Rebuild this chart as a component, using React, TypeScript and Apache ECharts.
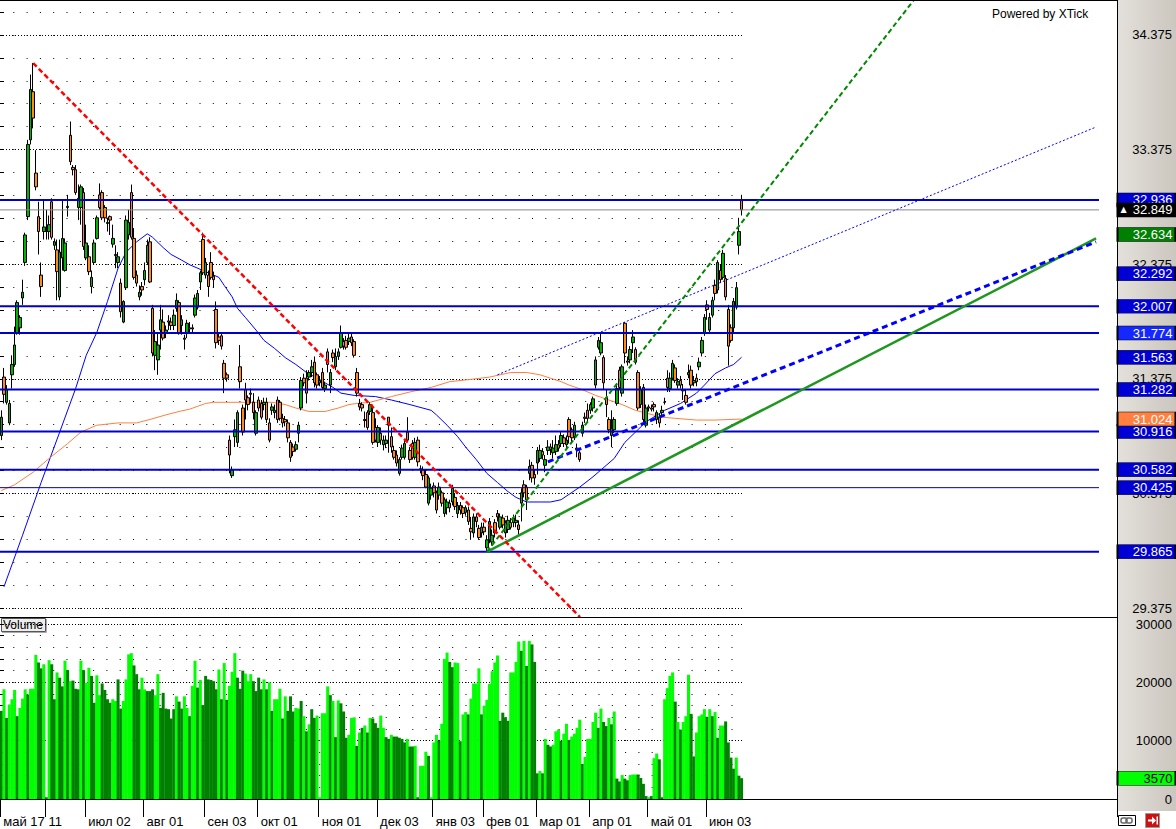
import React, { useEffect, useRef } from 'react';
import * as echarts from 'echarts';

// [open, close, low, high]
const CANDLES: number[][] = [
[30.88,31.04,30.84,31.10],[31.39,31.24,31.16,31.47],[31.17,31.28,31.15,31.32],[30.99,31.16,30.97,31.19],[31.41,31.50,31.29,31.58],
[31.50,31.67,31.48,31.83],[31.77,32.04,31.76,32.06],[31.82,31.91,31.76,31.93],[32.08,32.13,32.02,32.24],[32.39,32.63,32.36,32.65],
[32.79,33.42,32.76,33.46],[33.46,33.90,33.42,34.03],[33.88,33.65,33.56,34.13],[33.17,33.05,33.02,33.37],[32.79,32.66,32.46,32.92],
[32.28,32.18,32.09,32.39],[32.66,32.70,32.59,32.93],[32.66,32.67,32.59,32.85],[32.66,32.72,32.59,32.80],[32.92,32.61,32.59,32.95],
[32.54,32.57,32.50,32.60],[32.50,32.31,32.06,32.59],[32.09,32.48,32.06,32.59],[32.43,32.60,32.32,32.93],[32.32,32.56,32.31,32.60],
[32.87,32.88,32.79,32.98],[33.50,33.27,33.24,33.62],[33.22,33.20,33.15,33.24],[33.20,33.00,32.98,33.24],[32.87,32.95,32.76,33.07],
[32.87,33.05,32.72,33.07],[33.00,32.53,32.50,33.04],[32.43,32.56,32.41,32.72],[32.44,32.31,32.28,32.54],[32.18,32.26,32.12,32.32],
[32.39,32.56,32.37,32.59],[32.60,32.78,32.59,32.80],[32.98,32.87,32.85,33.08],[33.00,32.78,32.76,33.02],[32.87,32.78,32.74,32.89],
[32.74,32.73,32.66,32.78],[32.79,32.76,32.63,32.80],[32.55,32.60,32.52,32.72],[32.46,32.45,32.34,32.54],[32.39,32.44,32.34,32.48],
[32.21,31.96,31.91,32.25],[31.87,32.05,31.86,32.06],[32.17,32.76,32.15,32.80],[32.63,32.74,32.59,32.85],[33.00,32.61,32.59,33.07],
[32.60,32.26,32.24,32.69],[32.28,32.21,32.18,32.32],[32.09,32.13,32.06,32.19],[32.18,32.15,32.10,32.22],[32.24,32.32,32.19,32.39],
[32.39,32.54,32.37,32.59],[32.57,32.22,32.21,32.61],[31.99,31.60,31.57,32.02],[31.58,31.70,31.45,31.80],[31.54,31.67,31.41,31.77],
[31.80,31.89,31.63,32.02],[31.87,31.73,31.71,31.98],[31.77,31.80,31.73,31.84],[31.88,31.87,31.80,31.93],[31.87,31.84,31.80,31.91],
[31.84,31.93,31.80,31.98],[31.99,32.06,31.96,32.12],[32.04,31.77,31.76,32.06],[31.84,31.89,31.76,31.93],[31.73,31.72,31.63,31.76],
[31.77,31.86,31.73,31.89],[31.82,31.81,31.78,31.87],[31.81,31.82,31.77,31.85],[31.93,32.08,31.91,32.11],[32.00,32.12,31.98,32.15],
[32.22,32.30,32.15,32.32],[32.59,32.30,32.28,32.65],[32.28,32.39,32.25,32.43],[32.28,32.18,32.09,32.32],[32.39,32.26,32.24,32.48],
[32.27,32.24,32.17,32.31],[31.98,31.69,31.64,32.05],[31.74,31.71,31.67,31.77],[31.75,31.66,31.63,31.77],[31.51,31.38,31.25,31.54],
[31.41,31.38,31.35,31.43],[30.84,30.71,30.55,30.88],[30.53,30.58,30.51,30.61],[30.87,30.93,30.78,31.02],[30.82,31.08,30.78,31.10],
[31.48,31.35,31.29,31.67],[31.12,30.91,30.88,31.15],[31.28,31.19,31.02,31.34],[31.21,31.15,31.10,31.23],[31.25,31.24,31.16,31.29],
[31.17,31.08,31.02,31.25],[30.90,31.08,30.88,31.10],[31.19,31.12,31.09,31.22],[31.16,31.04,31.02,31.19],[31.15,31.17,31.10,31.21],
[31.17,31.02,30.99,31.21],[30.99,30.84,30.82,31.03],[31.10,31.13,31.06,31.16],[31.08,31.10,31.03,31.15],[31.19,31.02,30.99,31.22],
[31.17,31.03,31.01,31.19],[31.03,30.99,30.95,31.07],[31.02,31.00,30.96,31.05],[30.99,30.86,30.82,31.02],[30.82,30.69,30.65,30.84],
[30.78,30.74,30.70,30.81],[30.76,30.80,30.74,30.83],[30.90,30.97,30.82,31.00],[31.12,31.36,31.10,31.39],[31.38,31.34,31.31,31.42],
[31.38,31.25,31.16,31.45],[31.39,31.43,31.36,31.45],[31.43,31.48,31.39,31.54],[31.52,31.34,31.30,31.57],[31.41,31.32,31.29,31.43],
[31.34,31.36,31.31,31.40],[31.43,31.30,31.28,31.47],[31.29,31.32,31.26,31.35],[31.61,31.50,31.43,31.64],[31.32,31.43,31.25,31.46],
[31.60,31.56,31.52,31.63],[31.48,31.57,31.45,31.64],[31.57,31.61,31.54,31.64],[31.65,31.77,31.64,31.84],[31.70,31.66,31.63,31.73],
[31.71,31.65,31.63,31.75],[31.70,31.73,31.67,31.77],[31.74,31.69,31.66,31.77],[31.70,31.58,31.56,31.72],[31.43,31.25,31.22,31.47],
[31.16,31.13,31.10,31.20],[31.15,31.12,31.09,31.17],[31.02,31.01,30.95,31.09],[31.08,30.95,30.93,31.10],[31.09,31.15,31.06,31.17],
[31.08,30.82,30.80,31.15],[30.95,30.84,30.82,31.03],[30.82,30.95,30.78,30.97],[30.90,30.84,30.80,30.95],[30.80,30.84,30.75,30.88],
[30.81,30.84,30.77,30.88],[31.04,30.97,30.73,31.04],[30.87,30.78,30.73,30.95],[30.75,30.69,30.67,30.79],[30.71,30.64,30.61,30.75],
[30.55,30.67,30.53,30.69],[30.69,30.77,30.67,30.80],[30.69,30.81,30.67,30.84],[30.91,30.84,30.82,31.04],[30.75,30.67,30.64,30.78],
[30.81,30.69,30.67,30.84],[30.69,30.82,30.67,30.86],[30.84,30.65,30.61,30.87],[30.59,30.59,30.55,30.62],[30.58,30.53,30.49,30.61],
[30.54,30.43,30.42,30.58],[30.29,30.51,30.27,30.53],[30.36,30.42,30.32,30.46],[30.44,30.38,30.34,30.47],[30.38,30.23,30.20,30.40],
[30.36,30.43,30.32,30.47],[30.38,30.29,30.26,30.40],[30.20,30.32,30.17,30.34],[30.25,30.30,30.19,30.33],[30.29,30.25,30.21,30.32],
[30.30,30.42,30.27,30.45],[30.34,30.26,30.23,30.38],[30.20,30.27,30.16,30.30],[30.27,30.23,30.19,30.30],[30.25,30.20,30.16,30.27],
[30.21,30.25,30.18,30.27],[30.23,30.13,30.10,30.26],[30.07,30.04,29.97,30.17],[30.03,30.17,29.99,30.20],[30.17,30.13,30.08,30.20],
[30.07,29.99,29.97,30.10],[30.03,30.08,29.99,30.12],[30.08,30.04,30.01,30.12],[29.90,29.97,29.865,30.01],[29.97,30.13,29.94,30.16],
[29.95,30.01,29.92,30.06],[30.12,30.03,29.99,30.15],[30.20,30.17,30.13,30.23],[30.08,30.17,30.06,30.20],[30.16,30.10,30.07,30.19],
[30.03,30.12,29.99,30.14],[30.06,30.14,30.03,30.18],[30.12,30.08,30.06,30.16],[30.12,30.16,30.08,30.19],[30.12,30.14,30.08,30.19],
[30.10,30.06,30.01,30.14],[30.29,30.38,30.13,30.42],[30.45,30.38,30.34,30.49],[30.43,30.32,30.23,30.45],[30.55,30.61,30.49,30.67],
[30.62,30.51,30.47,30.65],[30.54,30.51,30.45,30.58],[30.64,30.75,30.54,30.78],[30.68,30.75,30.65,30.80],[30.74,30.71,30.67,30.77],
[30.62,30.67,30.56,30.71],[30.75,30.78,30.71,30.84],[30.78,30.76,30.71,30.81],[30.73,30.77,30.68,30.84],[30.74,30.80,30.71,30.88],
[30.80,30.77,30.74,30.84],[30.81,30.88,30.78,30.91],[30.86,30.81,30.78,30.89],[30.80,30.84,30.77,30.88],[31.02,30.87,30.81,31.04],
[30.93,30.86,30.82,30.95],[30.87,30.97,30.84,31.00],[30.77,30.76,30.69,30.81],[30.73,30.67,30.65,30.75],[30.90,30.97,30.87,31.00],
[31.04,31.03,30.99,31.08],[31.10,31.03,30.99,31.16],[31.10,31.15,31.07,31.17],[31.12,31.20,31.09,31.22],[31.32,31.54,31.29,31.57],
[31.65,31.71,31.63,31.74],[31.60,31.69,31.58,31.77],[31.56,31.34,31.28,31.58],[31.21,31.15,31.04,31.28],[31.02,30.93,30.90,31.04],
[30.88,30.94,30.78,31.10],[30.93,31.02,30.90,31.04],[31.16,31.29,31.14,31.32],[31.45,31.30,31.28,31.48],[31.25,31.48,31.22,31.50],
[31.86,31.60,31.51,31.87],[31.53,31.52,31.49,31.57],[31.54,31.63,31.51,31.66],[31.69,31.74,31.60,31.80],[31.63,31.52,31.50,31.65],
[31.43,31.12,31.10,31.45],[31.15,31.28,31.12,31.31],[31.30,31.02,30.99,31.33],[30.97,31.12,30.95,31.15],[31.13,31.12,31.09,31.15],
[31.12,31.11,31.09,31.15],[31.15,31.13,31.09,31.17],[31.02,31.08,30.98,31.10],[31.04,30.99,30.95,31.07],[31.08,31.10,31.05,31.14],
[31.17,31.17,31.15,31.21],[31.38,31.30,31.26,31.45],[31.29,31.38,31.26,31.43],[31.38,31.51,31.36,31.54],[31.47,31.36,31.34,31.50],
[31.32,31.35,31.29,31.38],[31.36,31.32,31.29,31.40],[31.28,31.27,31.19,31.33],[31.23,31.17,31.15,31.28],[31.41,31.43,31.38,31.50],
[31.45,31.32,31.29,31.49],[31.34,31.36,31.31,31.40],[31.38,31.35,31.31,31.42],[31.48,31.52,31.45,31.56],[31.60,31.71,31.57,31.74],
[31.77,31.91,31.75,31.94],[32.02,31.98,31.89,32.06],[31.80,31.91,31.77,31.95],[31.93,32.06,31.91,32.09],[32.19,32.12,32.06,32.24],
[32.15,32.39,32.12,32.41],[32.32,32.24,32.21,32.37],[32.26,32.47,32.24,32.50],[32.25,32.09,32.06,32.28],[31.98,31.66,31.49,32.02],
[31.82,31.71,31.69,31.85],[31.82,32.05,31.77,32.08],[32.00,32.17,31.98,32.22],[32.54,32.66,32.46,32.78],[32.93,32.849,32.80,32.98]
];

const VOLUME: number[] = [
15100,18800,13900,16200,17100,18700,14200,15600,17200,18800,
17900,18900,18900,24700,23400,22400,23100,300,23800,23100,
17100,21700,20800,19300,23700,22100,20200,20300,18900,18800,
23700,22100,19900,22500,21100,16500,21200,17800,19800,18700,
17100,16500,17100,16800,20500,15500,16800,20500,24800,25000,
22900,21400,18800,20800,18800,18500,18500,18800,17800,21400,
15600,18200,15500,15400,13800,15400,17600,16700,15500,17600,
15600,14200,19400,23700,19100,20400,16100,21100,20500,20400,
20200,18800,22200,17100,23300,17000,19400,21800,25000,20800,
18900,22000,21500,20200,21400,20200,18500,20800,18800,20500,
18800,20000,15100,17100,17100,18900,13800,17600,15100,17600,
15000,15600,15500,16800,14200,11600,12800,15400,13900,14300,
300,14700,14700,19300,17800,16800,10600,16900,16400,15000,
10500,11000,13900,14000,9100,11400,12200,12600,11400,13900,
13800,13000,12200,14300,12200,10600,10300,11000,10700,10700,
10500,10300,9700,10300,9000,9000,9100,300,5700,5700,
8100,7400,300,9700,11000,10000,12900,24000,25100,23500,
22600,23400,23300,9900,14500,14900,14500,17200,19800,19800,
22400,14500,16000,17000,19700,21900,23400,24600,13400,14800,
14000,13400,21700,21700,23500,27000,25400,27100,22800,27100,
26500,23500,4400,4800,4400,10300,9300,9000,9300,11600,
11900,10000,11200,12900,10100,10700,11200,12200,13600,6000,
7200,10300,10300,13200,14800,12200,15500,13200,12500,13900,
12800,15000,3500,3000,4100,3500,3200,4100,4200,4200,
4200,3600,2600,500,300,500,7000,7800,6800,300,
17100,19000,21100,21700,16700,13200,11900,13200,14200,21300,
14600,7300,11400,14200,14500,15400,14100,15400,14200,14900,
10500,12600,12600,13300,9700,7100,5200,7100,4000,3570
];

// 1 = light green bar, 0 = dark green bar
const VOL_TONE =
  '0101110111' + '0111001010' + '0100101000' + '1011001100' + '0011001111' +
  '0001100011' + '0000001001' + '1011010000' + '0010101110' + '0011100001' +
  '0101110100' + '0110101001' + '1111010100' + '0111010101' + '0001100100' +
  '0001001011' + '1011101110' + '0110110111' + '1011111100' + '0011110101' +
  '0001010011' + '1011011110' + '1111101001' + '0100100111' + '0000101100' +
  '1111010111' + '0011110101' + '0110000100';

const LABEL_IDX = [0, 17, 32, 54, 77, 97, 120, 142, 163, 182, 202, 222, 244, 266];
const LABEL_TXT = ['май 17', '11', 'июл 02', 'авг 01', 'сен 03', 'окт 01', 'ноя 01', 'дек 03', 'янв 03', 'фев 01', 'мар 01', 'апр 01', 'май 01', 'июн 03'];

// moving averages: [bar, value]
const MA_FAST: number[][] = [
[1,29.56],[8,30.01],[15,30.47],[22,30.91],[28,31.29],[32,31.58],[36,31.78],[40,32.05],[44,32.34],[47,32.48],
[51,32.57],[55,32.64],[57,32.61],[61,32.52],[64,32.46],[68,32.41],[71,32.37],[77,32.31],[82,32.26],[84,32.19],
[87,32.09],[89,31.99],[92,31.91],[96,31.80],[99,31.71],[103,31.64],[107,31.56],[111,31.50],[115,31.43],[119,31.38],
[125,31.30],[128,31.25],[133,31.23],[141,31.22],[147,31.19],[154,31.15],[162,31.10],[164,31.06],[168,30.97],[172,30.87],
[175,30.78],[179,30.67],[183,30.55],[187,30.47],[191,30.39],[194,30.34],[198,30.30],[203,30.30],[207,30.30],[211,30.32],
[218,30.43],[223,30.52],[228,30.62],[231,30.68],[235,30.82],[239,30.91],[243,31.00],[250,31.10],[256,31.16],[262,31.25],
[265,31.32],[269,31.42],[273,31.47],[276,31.50],[279,31.563]
];
const MA_SLOW: number[][] = [
[0,30.40],[5,30.45],[12,30.56],[18,30.68],[25,30.81],[30,30.91],[36,30.97],[44,30.99],[51,30.99],[56,31.02],
[62,31.06],[67,31.09],[71,31.11],[77,31.16],[80,31.17],[95,31.17],[102,31.17],[107,31.15],[111,31.12],[116,31.09],
[122,31.09],[127,31.12],[131,31.15],[134,31.16],[139,31.17],[147,31.22],[154,31.26],[162,31.30],[169,31.35],[177,31.37],
[184,31.39],[192,31.43],[198,31.43],[203,31.41],[207,31.38],[211,31.35],[214,31.32],[219,31.28],[224,31.23],[229,31.19],
[234,31.15],[239,31.10],[244,31.07],[249,31.04],[254,31.03],[262,31.015],[269,31.015],[279,31.024]
];

const LEVELS = [32.936, 32.007, 31.774, 31.282, 30.916, 30.582, 29.865];
const THIN_LEVEL = 30.425;
const LAST_PRICE = 32.849;

// trend lines: [bar, value]
const RED_TREND = [[12, 34.13], [218.1, 29.296]];
const GREEN_DASH = [[183, 29.865], [344, 34.682]];
const GREEN_SOLID = [[183, 29.865], [412.6, 32.60]];
const BLUE_DASH = [[206, 30.65], [412.6, 32.57]];
const BLUE_DOT = [[187, 31.41], [412.6, 33.572]];

const TAG_BLUE = [32.936, 32.292, 32.007, 31.774, 31.563, 31.282, 30.916, 30.582, 30.425, 29.865];
const TAG_GREEN = 32.634;
const TAG_ORANGE = 31.024;
const VOL_LAST = 3570;

const FONT = '"Liberation Sans", Arial, Helvetica, sans-serif';
const M = 421;
const GRID_W = 1117;
const BAR_PX = GRID_W / M;
const LINE_END = 1099 / BAR_PX - 0.5;
const TAG_X = 1146.5 / BAR_PX - 0.5;
const PX_PER_UNIT = 114.6;
const P_MAX = 34.375 + 35 / PX_PER_UNIT;
const P_MIN = P_MAX - 617 / PX_PER_UNIT;

export default function App() {
  const ref = useRef<HTMLDivElement>(null);
  useEffect(() => {
    if (!ref.current) return;
    const chart = echarts.init(ref.current, null, { renderer: 'svg' });
    const cats = Array.from({ length: M }, (_, i) => {
      const k = LABEL_IDX.indexOf(i);
      return k >= 0 ? LABEL_TXT[k] : 'c' + i;
    });
    const isLabel = (i: number) => LABEL_IDX.indexOf(i) >= 0;
    const lineS = (data: number[][], style: any, z = 3) => ({
      type: 'line', xAxisIndex: 1, yAxisIndex: 0, data, symbol: 'none', silent: true,
      lineStyle: style, z, animation: false,
    });
    const hidden = { show: false };
    const noAxisParts = { axisLine: hidden, axisTick: hidden, axisLabel: hidden };
    const sparse = { show: true, lineStyle: { color: '#000', width: 1, type: [1, 12.3] } };
    const dense = { show: true, lineStyle: { color: '#000', width: 1, type: [1, 2] } };
    const priceFmt = (v: number) => {
      const k = v - 29.375;
      return Math.abs(k - Math.round(k)) < 1e-6 ? v.toFixed(3) : '';
    };
    const tagLabel = (color: string) => ({
      show: true, position: 'inside',
      formatter: (p: any) => `{v|${p.value[1].toFixed(3)}}`,
      rich: { v: { width: 52, align: 'right', color, fontSize: 13, fontFamily: FONT } },
    });

    const series: any[] = [
      lineS(MA_FAST, { color: '#0000ff', width: 1 }, 1),
      lineS(MA_SLOW, { color: '#ff7f40', width: 1 }, 1),
      {
        type: 'candlestick', xAxisIndex: 0, yAxisIndex: 0, data: CANDLES, barWidth: 3, z: 2,
        itemStyle: {
          color: '#00b400', color0: '#ff8a1c', borderColor: '#000', borderColor0: '#000',
          borderColorDoji: '#000', borderWidth: 1,
        },
        silent: true,
      },
      ...LEVELS.map((v) => lineS([[-0.5, v], [LINE_END, v]], { color: '#0000cc', width: 2 })),
      lineS([[-0.5, THIN_LEVEL], [LINE_END, THIN_LEVEL]], { color: '#0000aa', width: 1 }),
      lineS([[-0.5, LAST_PRICE], [LINE_END, LAST_PRICE]], { color: '#888888', width: 1 }),
      lineS(BLUE_DOT, { color: '#0000ff', width: 1, type: [2, 2] }),
      lineS(GREEN_SOLID, { color: '#1f961f', width: 2.5 }),
      lineS(BLUE_DASH, { color: '#0000ff', width: 3, type: [6, 4] }),
      lineS(GREEN_DASH, { color: '#008800', width: 2, type: [5, 3] }),
      lineS(RED_TREND, { color: '#ff0000', width: 2.5, type: [5, 3] }),
      {
        type: 'bar', xAxisIndex: 2, yAxisIndex: 1, barWidth: 3, silent: true,
        data: VOLUME.map((v, i) => ({ value: v, itemStyle: { color: VOL_TONE[i] === '1' ? '#00ff00' : '#008000' } })),
      },
      {
        type: 'scatter', xAxisIndex: 1, yAxisIndex: 0, clip: false, z: 5, silent: true,
        symbol: 'rect', symbolSize: [58, 14],
        itemStyle: { borderColor: '#000', borderWidth: 1, opacity: 1 },
        data: TAG_BLUE.map((v) => ({ value: [TAG_X, v], itemStyle: { color: v === 31.774 ? '#1428ff' : '#0000d4' } })),
        label: tagLabel('#fff'),
      },
      {
        type: 'scatter', xAxisIndex: 1, yAxisIndex: 0, clip: false, z: 6, silent: true,
        symbol: 'rect', symbolSize: [58, 14],
        itemStyle: { borderColor: '#000', borderWidth: 1, opacity: 1 },
        data: [
          { value: [TAG_X, TAG_ORANGE], itemStyle: { color: '#ff8040' } },
          { value: [TAG_X, TAG_GREEN], itemStyle: { color: '#008000' } },
        ],
        label: tagLabel('#fff'),
      },
      {
        type: 'scatter', xAxisIndex: 1, yAxisIndex: 0, clip: false, z: 7, silent: true,
        symbol: 'rect', symbolSize: [58, 14],
        itemStyle: { color: '#000', borderColor: '#000', borderWidth: 1, opacity: 1 },
        data: [{ value: [TAG_X, LAST_PRICE] }],
        label: {
          show: true, position: 'inside',
          formatter: (p: any) => `{a|▲}{v|${p.value[1].toFixed(3)}}`,
          rich: {
            a: { width: 10, align: 'left', color: '#fff', fontSize: 8, fontFamily: 'DejaVu Sans' },
            v: { width: 42, align: 'right', color: '#fff', fontSize: 13, fontFamily: FONT },
          },
        },
      },
      {
        type: 'scatter', xAxisIndex: 3, yAxisIndex: 1, clip: false, z: 6, silent: true,
        symbol: 'rect', symbolSize: [58, 14],
        itemStyle: { color: '#00ff00', borderColor: '#000', borderWidth: 1, opacity: 1 },
        data: [{ value: [TAG_X, VOL_LAST] }],
        label: {
          show: true, position: 'inside', formatter: (p: any) => `{v|${p.value[1]}}`,
          rich: { v: { width: 52, align: 'right', color: '#000', fontSize: 13, fontFamily: FONT } },
        },
      },
    ];

    const option: any = {
      animation: false,
      backgroundColor: '#ffffff',
      grid: [
        { left: 0, top: 0, width: GRID_W, height: 617, outerBoundsMode: 'none', containLabel: false },
        { left: 0, top: 624, width: GRID_W, height: 175, outerBoundsMode: 'none', containLabel: false },
        { left: 0, top: 12, width: 742, height: 596, outerBoundsMode: 'none', containLabel: false },
        { left: 0, top: 12, width: GRID_W, height: 596, outerBoundsMode: 'none', containLabel: false },
        { left: 0, top: 624, width: 742, height: 175, outerBoundsMode: 'none', containLabel: false },
      ],
      xAxis: [
        { type: 'category', gridIndex: 0, data: cats, boundaryGap: true, show: false },
        { type: 'value', gridIndex: 0, min: -0.5, max: M - 0.5, show: false },
        {
          type: 'category', gridIndex: 1, data: cats, boundaryGap: true, offset: 12,
          axisLine: { show: true, lineStyle: { color: '#000', width: 1 } },
          axisTick: { show: true, interval: (i: number) => isLabel(i), length: 18, lineStyle: { color: '#000', width: 1 } },
          axisLabel: {
            show: true, interval: (i: number) => isLabel(i), align: 'left', margin: 4,
            padding: [0, 0, 0, 2], color: '#000', fontSize: 13, fontFamily: FONT,
            formatter: (v: string) => (/^c\d+$/.test(v) ? '' : v),
          },
          splitLine: { show: false },
        },
        { type: 'value', gridIndex: 1, min: -0.5, max: M - 0.5, show: false },
        { type: 'value', gridIndex: 2, show: false, min: 0, max: 1 },
        { type: 'value', gridIndex: 3, show: false, min: 0, max: 1 },
        { type: 'value', gridIndex: 4, show: false, min: 0, max: 1 },
      ],
      yAxis: [
        { type: 'value', gridIndex: 0, min: P_MIN, max: P_MAX, show: false },
        {
          type: 'value', gridIndex: 1, position: 'right', min: 0, max: 30000, interval: 2000,
          axisLine: { show: false },
          axisTick: { show: true, inside: true, length: 4, lineStyle: { color: '#000' } },
          axisLabel: {
            show: true, align: 'right', margin: 55, color: '#000', fontSize: 13, fontFamily: FONT,
            formatter: (v: number) => (v % 10000 === 0 ? String(v) : ''),
          },
          splitLine: { show: false },
        },
        {
          type: 'value', gridIndex: 1, position: 'left', min: 0, max: 30000, interval: 2000,
          axisLine: { show: false }, axisLabel: { show: false },
          axisTick: { show: true, inside: true, length: 4, lineStyle: { color: '#000' } },
          splitLine: { show: false },
        },
        {
          type: 'value', gridIndex: 2, position: 'left', min: 29.375, max: 34.575, interval: 0.2,
          ...noAxisParts, splitLine: sparse,
        },
        {
          type: 'value', gridIndex: 2, position: 'right', min: 29.375, max: 34.575, interval: 0.2,
          ...noAxisParts,
          splitLine: {
            show: true,
            lineStyle: {
              color: ['#000', 'rgba(0,0,0,0)', 'rgba(0,0,0,0)', 'rgba(0,0,0,0)', 'rgba(0,0,0,0)'],
              width: 1, type: [1, 2],
            },
          },
        },
        {
          type: 'value', gridIndex: 3, position: 'right', min: 29.375, max: 34.575, interval: 0.2,
          axisLine: { show: false },
          axisTick: { show: true, inside: true, length: 4, lineStyle: { color: '#000' } },
          axisLabel: { show: true, align: 'right', margin: 55, color: '#000', fontSize: 13, fontFamily: FONT, formatter: priceFmt },
          splitLine: { show: false },
        },
        {
          type: 'value', gridIndex: 3, position: 'left', min: 29.375, max: 34.575, interval: 0.2,
          axisLine: { show: false }, axisLabel: { show: false },
          axisTick: { show: true, inside: true, length: 4, lineStyle: { color: '#000' } },
          splitLine: { show: false },
        },
        {
          type: 'value', gridIndex: 4, position: 'left', min: 0, max: 30000, interval: 2000,
          ...noAxisParts, splitLine: sparse,
        },
        {
          type: 'value', gridIndex: 4, position: 'right', min: 0, max: 30000, interval: 10000,
          ...noAxisParts, splitLine: dense,
        },
      ],
      graphic: [
        {
          type: 'rect', z: -10, silent: true,
          shape: { x: 1117, y: 0, width: 59, height: 811 },
          style: {
            fill: new echarts.graphic.LinearGradient(0, 0, 1, 0, [
              { offset: 0, color: '#e4e0db' },
              { offset: 1, color: '#cbc7bf' },
            ]),
          },
        },
        { type: 'line', z: 20, silent: true, shape: { x1: 0, y1: 0.5, x2: 1117, y2: 0.5 }, style: { stroke: '#000', lineWidth: 1 } },
        { type: 'line', z: 20, silent: true, shape: { x1: 0, y1: 617.5, x2: 1117, y2: 617.5 }, style: { stroke: '#000', lineWidth: 1 } },
        { type: 'line', z: 20, silent: true, shape: { x1: 1117.5, y1: 0, x2: 1117.5, y2: 811 }, style: { stroke: '#000', lineWidth: 1 } },
        {
          type: 'text', z: 20, silent: true, x: 992, y: 14,
          style: { text: 'Powered by XTick', fill: '#000', font: `12px ${FONT}`, textVerticalAlign: 'middle' },
        },
        {
          type: 'group', z: 20, x: 1, y: 618, silent: true,
          children: [
            { type: 'rect', shape: { x: 0.5, y: 0.5, width: 44, height: 13 }, style: { fill: '#eeeeee', stroke: '#555', lineWidth: 1 } },
            { type: 'line', shape: { x1: 1, y1: 14.5, x2: 45.5, y2: 14.5 }, style: { stroke: '#aaa', lineWidth: 1 } },
            { type: 'line', shape: { x1: 45.5, y1: 1, x2: 45.5, y2: 14.5 }, style: { stroke: '#aaa', lineWidth: 1 } },
            { type: 'text', x: 2, y: 7, style: { text: 'Volume', fill: '#000', font: `12px ${FONT}`, textVerticalAlign: 'middle' } },
          ],
        },
        {
          type: 'group', z: 20, silent: true,
          children: [
            { type: 'rect', shape: { x: 1118.5, y: 815.5, width: 17, height: 10 }, style: { fill: '#fff', stroke: '#000', lineWidth: 1 } },
            { type: 'rect', shape: { x: 1121, y: 818, width: 6, height: 5, r: 2 }, style: { fill: 'none', stroke: '#666', lineWidth: 1.5 } },
            { type: 'rect', shape: { x: 1126, y: 818, width: 6, height: 5, r: 2 }, style: { fill: 'none', stroke: '#666', lineWidth: 1.5 } },
            { type: 'rect', shape: { x: 1145.5, y: 813.5, width: 14, height: 14 }, style: { fill: '#d01010', stroke: '#999', lineWidth: 1 } },
            {
              type: 'polygon',
              shape: { points: [[1148, 819.5], [1152, 819.5], [1152, 816.5], [1156, 820.5], [1152, 824.5], [1152, 821.5], [1148, 821.5]] },
              style: { fill: '#fff' },
            },
            { type: 'rect', shape: { x: 1156.5, y: 816.5, width: 1.5, height: 8 }, style: { fill: '#fff' } },
          ],
        },
      ],
      series,
    };
    chart.setOption(option);
    return () => chart.dispose();
  }, []);
  return (
    <div
      ref={ref}
      style={{ position: 'fixed', left: 0, top: 0, width: 1176, height: 829, background: '#fff' }}
    />
  );
}
